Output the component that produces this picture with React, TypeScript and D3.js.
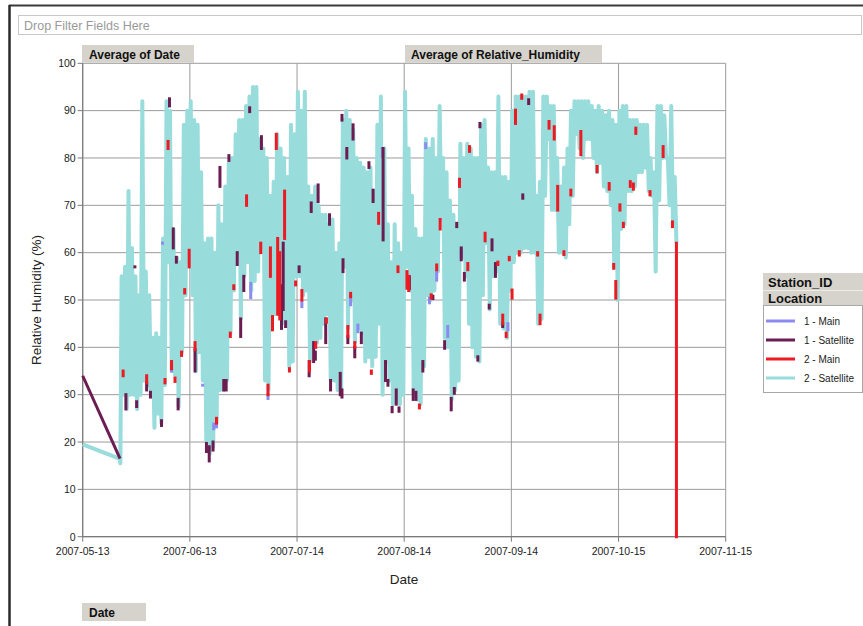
import React from "react";
import * as d3 from "d3";

// ---------- data ----------
const START_DATE = "2007-05-13";
const END_DATE = "2007-11-15";
const xTickLabels = ["2007-05-13", "2007-06-13", "2007-07-14", "2007-08-14", "2007-09-14", "2007-10-15", "2007-11-15"];
const yTickValues = [0, 10, 20, 30, 40, 50, 60, 70, 80, 90, 100];
const seriesNames = ["1 - Main", "1 - Satellite", "2 - Main", "2 - Satellite"];
const seriesColors = ["#8c8cf0", "#6b1d52", "#ec1b23", "#98dcdc"];

// 2 - Satellite: early sparse readings [dayOffset, RH]
const cyanLead: [number, number][] = [[0, 19.5], [10.6, 16.5], [10.9, 15.5]];
const cyanFirstDay = 11;
// daily night maximum and afternoon minimum readings (days 11..171)
const cyanHigh = [
  55, 57, 73, 61, 55, 51, 92, 56, 51, 42,
  43, 42, 63, 92, 90, 65, 59, 58, 87, 90,
  92, 88, 87, 77, 62, 63, 63, 60, 70, 66,
  74, 79, 80, 85, 88, 88, 91, 93, 95, 95,
  84, 82, 80, 72, 75, 85, 82, 80, 76, 87,
  85, 94, 90, 94, 74, 72, 74, 70, 68, 68,
  66, 67, 60, 62, 88, 90, 88, 86, 80, 79,
  78, 77, 78, 73, 87, 93, 82, 66, 58, 66,
  62, 60, 94, 82, 72, 65, 63, 63, 84, 82,
  84, 80, 91, 80, 77, 71, 68, 66, 83, 80,
  83, 82, 80, 80, 87, 88, 78, 77, 77, 93,
  76, 76, 75, 90, 93, 93, 93, 93, 94, 94,
  72, 75, 93, 93, 91, 91, 80, 74, 78, 82,
  90, 92, 92, 92, 92, 92, 91, 90, 91, 90,
  89, 90, 88, 87, 90, 91, 91, 88, 88, 88,
  87, 87, 87, 80, 77, 91, 91, 89, 80, 91, 76,
];
const cyanLow = [
  30, 27, 30, 30, 27, 30, 33, 32, 30, 23,
  26, 24, 32, 58, 35, 34, 27.5, 39, 51, 58,
  51, 35, 39, 33, 20, 17.5, 19, 24, 31, 31,
  33, 43, 52, 60, 46, 55, 58, 52, 54, 56,
  61, 33, 31, 46, 47, 47, 45, 46, 36, 37,
  55, 55, 51, 52, 37, 40, 41, 42, 45, 47,
  33, 33, 31, 31, 57, 44, 50, 41, 44, 43,
  37, 38, 36, 38, 45, 30, 37, 33, 28, 29,
  28, 30, 57, 52, 30, 29, 28, 36, 51, 50,
  52, 56, 67, 42, 40, 29, 31, 33, 59, 55,
  45, 40, 38, 37, 51, 62, 48, 55, 56, 45,
  44, 42, 52, 58, 60, 60, 61, 61, 60, 60,
  45, 46, 72, 84, 69, 69, 60, 60, 59, 66,
  72, 85, 82, 80, 84, 84, 80, 77, 79, 74,
  73, 70, 57, 50, 65, 66, 73, 73, 74, 77,
  77, 78, 73, 72, 56, 71, 80, 80, 70, 66, 62,
];

// 1 - Satellite: early readings
const purpleLead: [number, number][] = [[0, 34], [10.8, 16.5]];

// readings of the other stations that show outside the 2 - Satellite band: [dayOffset, fromRH, toRH]
const blueBits: [number, number, number][] = [
  [23.1, 62, 62], [25.7, 35, 35.5], [34.7, 32, 32], [37.9, 22.8, 23.8], [38.7, 23.2, 24],
  [48.6, 50.5, 53.5], [53.6, 29.2, 30], [63.4, 48.6, 49.5], [77.5, 49, 50.7], [79.6, 43.3, 44.7],
  [86.7, 80.3, 82], [99.2, 82.2, 83], [100.3, 49.4, 50.4], [102.4, 54.2, 56], [105.6, 42.3, 44.4],
  [109.5, 59, 60.5], [123, 43.7, 45],
];
const purpleBits: [number, number, number][] = [
  [12.5, 27, 30], [15.1, 57, 57], [15.6, 27.5, 28.5], [18.5, 31, 32.5], [19.6, 29.5, 30.5],
  [22.8, 23.5, 24.5], [25.1, 91, 92.5], [26.2, 61, 65], [27.1, 58, 59], [27.6, 27, 29],
  [32.5, 35, 39.5], [35.8, 18, 19.7], [36.6, 16, 19], [37.7, 18.3, 20], [39.7, 74, 78],
  [40.8, 31, 33], [41.5, 31, 33], [42.3, 79.5, 80.5], [44.7, 57.5, 60], [45.7, 42.3, 46],
  [46.6, 52, 55], [48.3, 89.8, 90.6], [51.7, 82, 84.5], [57.5, 44, 53], [58.0, 48, 62],
  [58.7, 44.4, 45.4], [62.6, 56, 57], [65.5, 34, 37], [66.1, 68.7, 70.5], [66.8, 37, 41],
  [67.3, 37.5, 39], [68.1, 70.8, 74.3], [70.3, 41, 46], [71.4, 66, 68], [71.7, 31, 33],
  [74.5, 30, 34.5], [75.0, 29.5, 31], [75.0, 88, 89], [75.3, 56, 58.5], [76.4, 80, 82],
  [76.7, 41, 42.3], [78.2, 84, 87], [78.7, 38, 40], [80.6, 41, 43], [82.8, 78, 79],
  [84, 70.8, 73.2], [86.9, 62.7, 82], [87.6, 33, 37], [88.3, 32, 33], [89.5, 26.4, 27.3],
  [90.7, 28, 31], [91.5, 26.5, 27.2], [94.5, 52.4, 54.9], [95.6, 29, 31], [96.4, 29, 30.5],
  [98.4, 35, 37], [101.3, 50.3, 50.8], [104.7, 39.8, 41.2], [106.6, 26.8, 29.2], [107.5, 30.3, 31.3],
  [108.2, 65.5, 66.2], [109.5, 58.5, 61], [110.4, 54.2, 55.6], [114.3, 37.3, 38], [114.9, 86.6, 87.3],
  [117.6, 48.3, 48.9], [118.4, 60.6, 62.7], [119.4, 55, 57.7], [121.5, 44.4, 45], [127.3, 71.5, 72.2],
  [129, 91.5, 92.3],
];
const redBits: [number, number, number][] = [
  [11.7, 34, 35], [18.5, 32.5, 34], [23.8, 32.5, 33.2], [24.7, 82, 83.5], [25.7, 35.5, 37],
  [26.7, 32.8, 33.5], [28.6, 38.3, 39], [29.5, 51.5, 52.2], [30.8, 57, 60.5], [32.5, 39.5, 41],
  [38.7, 24, 25], [42.7, 42.3, 43], [43.7, 52.4, 53], [47.4, 70, 72], [51.5, 60, 62],
  [53.6, 30, 32], [54.3, 55, 61], [54.9, 43.7, 46.5], [56, 82, 85], [56.4, 47, 63],
  [57, 46, 60], [58.4, 63, 73], [59.8, 35, 35.5], [61.6, 53.2, 53.8], [63.4, 50, 52],
  [65.6, 35, 37], [67.4, 40, 41], [70.5, 45.3, 46], [76.7, 42.3, 44.4], [77.5, 50.7, 51.4],
  [78.7, 40, 41], [83.5, 34.5, 35], [85.6, 66.2, 68.3], [91.2, 56, 57], [93.8, 52.5, 56],
  [94.3, 52, 55], [97.4, 27.2, 27.8], [100.8, 50.4, 51.1], [102.4, 56.4, 57.4], [103.4, 65, 67],
  [109, 74, 75.5], [111.4, 56.4, 57.7], [111.9, 81.4, 82.4], [116.4, 62.5, 64.1], [120.1, 57.5, 58],
  [121.5, 45, 46.8], [122.5, 42.3, 43], [123.4, 58.5, 59], [124.2, 50.4, 52.1], [125.2, 87.3, 90.1],
  [126.3, 59.5, 60.2], [127, 92.6, 93.3], [131.6, 59.5, 60], [132.3, 45, 46.8], [134.9, 86.3, 87.7],
  [136.4, 84, 86.6], [137.4, 69, 74], [139.2, 59.6, 60.2], [141.2, 72.2, 73.2], [144.1, 80.7, 85.6],
  [148.8, 77.1, 78.2], [152.3, 73.4, 74.6], [153.6, 56.7, 57.5], [154.2, 50.4, 53.9], [155.4, 69, 70.1],
  [156.4, 65.5, 66.2], [158.4, 74, 75], [159.3, 73.4, 74.5], [160, 85.2, 86.3], [164.1, 72.2, 72.9],
  [167.9, 80.3, 82.4], [170.6, 65.5, 66.5], [171.75, 0, 62],
];

// ---------- chart ----------
const W = 863;
const H = 626;
const FONT = "'Liberation Sans', Arial, sans-serif";

export default function App() {
  const parse = d3.utcParse("%Y-%m-%d");
  const start = parse(START_DATE)!;
  const end = parse(END_DATE)!;
  const dayMs = 86400000;
  const toDate = (d: number) => new Date(start.getTime() + d * dayMs);

  const plot = { left: 82.7, right: 725.7, top: 63.3, bottom: 536.7 };
  const x = d3.scaleUtc().domain([start, end]).range([plot.left, plot.right]);
  const y = d3.scaleLinear().domain([0, 100]).range([plot.bottom, plot.top]);
  const line = d3
    .line<[number, number]>()
    .x((d) => x(toDate(d[0])))
    .y((d) => y(d[1]));

  const cyanPoints: [number, number][] = [...cyanLead];
  cyanHigh.forEach((h, i) => {
    const day = cyanFirstDay + i;
    cyanPoints.push([day + 0.25, h]);
    cyanPoints.push([day + 0.75, cyanLow[i]]);
  });

  const xTicks = xTickLabels.map((s) => parse(s)!);
  const gridColor = "#9c9c9c";

  const bitPaths = (bits: [number, number, number][], color: string, key: string) =>
    bits.map((b, i) => (
      <path
        key={key + i}
        d={line([[b[0], b[1]], [b[0], b[2]]]) || ""}
        stroke={color}
        strokeWidth={3}
        strokeLinecap="square"
        fill="none"
      />
    ));

  const btnFill = "#d6d3cc";

  return (
    <svg
      width={W}
      height={H}
      style={{ position: "absolute", left: 0, top: 0, fontFamily: FONT }}
    >
      <rect x={0} y={0} width={W} height={H} fill="#ffffff" />
      {/* outer frame */}
      <line x1={9} y1={5.5} x2={W} y2={5.5} stroke="#3a3a3a" strokeWidth={2} />
      <line x1={9.5} y1={5} x2={9.5} y2={H} stroke="#2a2a2a" strokeWidth={2.5} />

      {/* filter drop zone */}
      <rect x={18.5} y={15.5} width={843} height={19} fill="#fff" stroke="#c8c8c8" />
      <text x={24} y={30} fontSize={12.5} fill="#9a9a9a">Drop Filter Fields Here</text>

      {/* field buttons */}
      <rect x={82} y={45} width={112} height={17.5} fill={btnFill} />
      <text x={89} y={58.5} fontSize={12} fontWeight="bold" fill="#111">Average of Date</text>
      <rect x={405} y={45} width={197} height={17.5} fill={btnFill} />
      <text x={411} y={58.5} fontSize={12} fontWeight="bold" fill="#111">Average of Relative_Humidity</text>
      <rect x={82} y={603} width={64} height={18} fill={btnFill} />
      <text x={89} y={617} fontSize={12} fontWeight="bold" fill="#111">Date</text>

      {/* gridlines */}
      {yTickValues.map((v) => (
        <line key={"gy" + v} x1={plot.left} x2={plot.right} y1={y(v)} y2={y(v)} stroke={gridColor} strokeWidth={1} />
      ))}
      {xTicks.map((t, i) => (
        <line key={"gx" + i} x1={x(t)} x2={x(t)} y1={plot.top} y2={plot.bottom} stroke={gridColor} strokeWidth={1} />
      ))}
      {/* axes */}
      <line x1={plot.left} x2={plot.left} y1={plot.top} y2={plot.bottom} stroke="#7a7a7a" strokeWidth={1.2} />
      <line x1={plot.left} x2={plot.right} y1={plot.bottom} y2={plot.bottom} stroke="#7a7a7a" strokeWidth={1.2} />
      {yTickValues.map((v) => (
        <g key={"ty" + v}>
          <line x1={plot.left - 5} x2={plot.left} y1={y(v)} y2={y(v)} stroke="#7a7a7a" />
          <text x={plot.left - 7} y={y(v) + 3.8} fontSize={10.5} textAnchor="end" fill="#222">{v}</text>
        </g>
      ))}
      {xTicks.map((t, i) => (
        <g key={"tx" + i}>
          <line x1={x(t)} x2={x(t)} y1={plot.bottom} y2={plot.bottom + 5} stroke="#7a7a7a" />
          <text x={x(t)} y={555} fontSize={10.5} textAnchor="middle" fill="#222">{xTickLabels[i]}</text>
        </g>
      ))}
      <text x={404} y={584} fontSize={13.5} textAnchor="middle" fill="#222">Date</text>
      <text
        transform={`translate(40.5, ${(plot.top + plot.bottom) / 2}) rotate(-90)`}
        fontSize={13.5}
        textAnchor="middle"
        fill="#222"
      >
        Relative Humidity (%)
      </text>

      {/* series */}
      <path d={line(cyanPoints) || ""} fill="none" stroke={seriesColors[3]} strokeWidth={4} strokeLinejoin="round" />
      <path d={line(purpleLead) || ""} fill="none" stroke={seriesColors[1]} strokeWidth={3} />
      {bitPaths(blueBits, seriesColors[0], "b")}
      {bitPaths(purpleBits, seriesColors[1], "p")}
      {bitPaths(redBits, seriesColors[2], "r")}

      {/* legend */}
      <rect x={763} y={273} width={100} height={32} fill={btnFill} />
      <line x1={763} x2={863} y1={290.5} y2={290.5} stroke="#eeeae4" />
      <text x={768} y={286.5} fontSize={13} fontWeight="bold" fill="#111">Station_ID</text>
      <text x={768} y={302.5} fontSize={13} fontWeight="bold" fill="#111">Location</text>
      <rect x={763.5} y={305.5} width={99} height={87} fill="#fff" stroke="#a8a8a8" />
      {seriesNames.map((n, i) => (
        <g key={"lg" + i}>
          <line x1={766} x2={795} y1={321 + i * 19} y2={321 + i * 19} stroke={seriesColors[i]} strokeWidth={3} />
          <text x={804} y={324.5 + i * 19} fontSize={10} fill="#222">{n}</text>
        </g>
      ))}
    </svg>
  );
}
